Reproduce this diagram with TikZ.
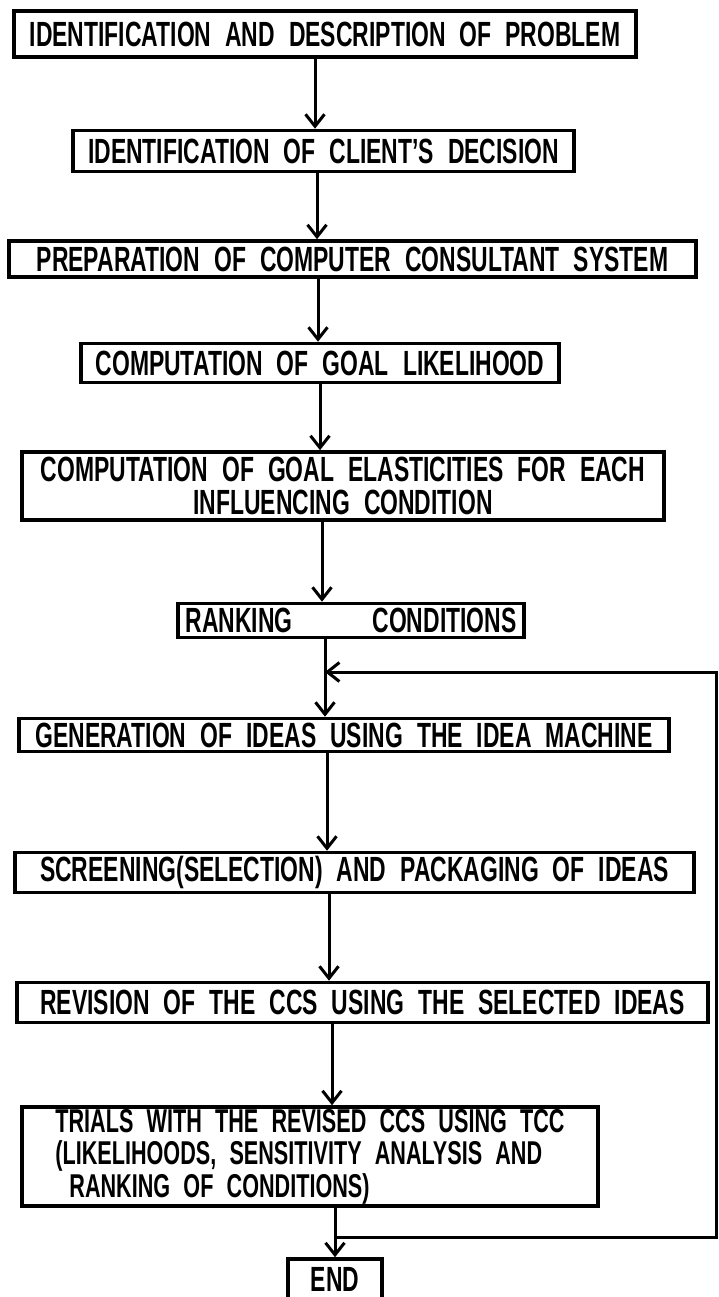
\documentclass[tikz,border=0pt]{standalone}
\usepackage{fontspec}
\setmainfont{Liberation Sans}[FakeStretch=0.655, WordSpace=2.2]
\usetikzlibrary{arrows.meta}
\begin{document}
\begin{tikzpicture}[x=1pt,y=-1pt,
  box/.style={draw, line width=3.6pt, inner sep=0pt, align=center,
    font=\fontsize{35}{31}\bfseries\selectfont},
  arr/.style={line width=3pt,
    -{Straight Barb[length=12pt,width=19pt,line width=3pt]}}]
\useasboundingbox[fill=white] (0,0) rectangle (719,1297);

\node[box, minimum width=622pt, minimum height=46pt] (b1) at (325,34)
  {IDENTIFICATION AND DESCRIPTION OF PROBLEM};
\node[box, minimum width=501pt, minimum height=41pt] (b2) at (323.5,151)
  {IDENTIFICATION OF CLIENT'S DECISION};
\node[box, minimum width=687pt, minimum height=36pt] (b3) at (352.5,259)
  {PREPARATION OF COMPUTER CONSULTANT SYSTEM};
\node[box, minimum width=478pt, minimum height=39pt] (b4) at (320,363)
  {COMPUTATION OF GOAL LIKELIHOOD};
\node[box, font=\fontsize{35}{33}\bfseries\selectfont,
  minimum width=642pt, minimum height=68pt] (b5) at (343,486)
  {COMPUTATION OF GOAL ELASTICITIES FOR EACH\\INFLUENCING CONDITION};
\node[box, minimum width=346pt, minimum height=34pt] (b6) at (351,620.5)
  {RANKING\hspace{80pt}CONDITIONS};
\node[box, minimum width=650pt, minimum height=33pt] (b7) at (344,735)
  {GENERATION OF IDEAS USING THE IDEA MACHINE};
\node[box, minimum width=679pt, minimum height=40pt] (b8) at (354.5,872.5)
  {SCREENING(SELECTION) AND PACKAGING OF IDEAS};
\node[box, minimum width=691pt, minimum height=40pt] (b9) at (362.5,1002.5)
  {REVISION OF THE CCS USING THE SELECTED IDEAS};
\node[box, align=left, font=\fontsize{33}{32.5}\bfseries\selectfont,
  minimum width=576pt, minimum height=99pt] (b10) at (310,1156.5)
  {TRIALS WITH THE REVISED CCS USING TCC\\(LIKELIHOODS, SENSITIVITY ANALYSIS AND\\\hspace*{14pt}RANKING OF CONDITIONS)};
\node[box, minimum width=94pt, minimum height=40pt, text depth=0pt,
  yshift=3pt] (end) at (335,1282) {END};

\coordinate (s1) at (315,0);
\coordinate (s2) at (317,0);
\coordinate (s3) at (318,0);
\coordinate (s4) at (320,0);
\coordinate (s5) at (322,0);
\coordinate (s7) at (327,0);
\coordinate (s8) at (329,0);
\coordinate (s9) at (332,0);
\coordinate (j1) at (325,672);
\coordinate (j2) at (335,1237);
\coordinate (rx) at (716,0);

\draw[arr] (b1.south -| s1) -- (b2.north -| s1);
\draw[arr] (b2.south -| s2) -- (b3.north -| s2);
\draw[arr] (b3.south -| s3) -- (b4.north -| s3);
\draw[arr] (b4.south -| s4) -- (b5.north -| s4);
\draw[arr] (b5.south -| s5) -- (b6.north -| s5);
\draw[arr] (b6.south -| j1) -- (b7.north -| j1);
\draw[arr] (b7.south -| s7) -- (b8.north -| s7);
\draw[arr] (b8.south -| s8) -- (b9.north -| s8);
\draw[arr] (b9.south -| s9) -- (b10.north -| s9);
\draw[arr] (b10.south -| j2) -- (end.north -| j2);
\draw[arr] (j2) -- (j2 -| rx) -- (j1 -| rx) -- (j1);
\end{tikzpicture}
\end{document}
